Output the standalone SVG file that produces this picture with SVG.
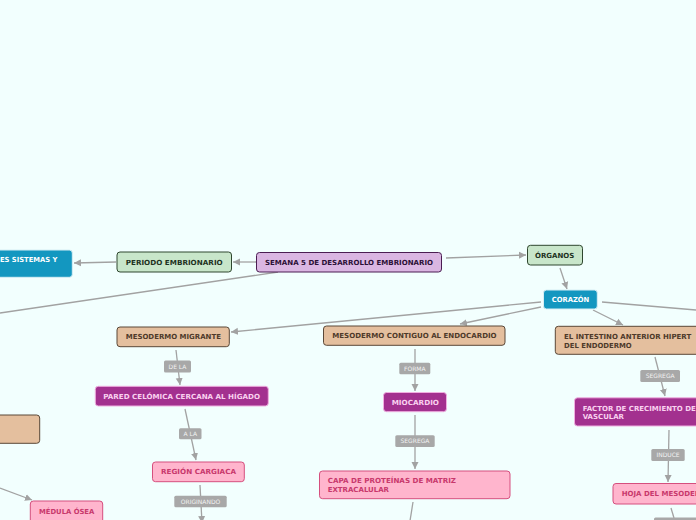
<svg xmlns="http://www.w3.org/2000/svg" width="696" height="520" viewBox="0 0 696 520">
<defs>
<marker id="ah" markerUnits="userSpaceOnUse" markerWidth="8" markerHeight="8" refX="7" refY="4" orient="auto">
<path d="M0,0.5 L7,4 L0,7.5 Z" fill="#a2a2a2"/>
</marker>
<style>
.t{font-family:"DejaVu Sans",Verdana,sans-serif;font-weight:bold;font-size:7px}
.lb rect{fill:#a8a8a8}
.lb text{font-family:"DejaVu Sans",Verdana,sans-serif;font-size:6px;fill:#f2f2f2;text-anchor:middle}
.c path{fill:none;stroke:#a2a2a2;stroke-width:1.3}
.green rect{fill:#c8e6ca;stroke:#2f472f;stroke-width:1}
.green text{fill:#1e321e}
.purple rect{fill:#dab6e2;stroke:#4a1d52;stroke-width:1}
.purple text{fill:#2b0f36}
.blue rect{fill:#1397c0;stroke:#d7eef4;stroke-width:1}
.blue text{fill:#ffffff}
.tan rect{fill:#e4bf9e;stroke:#5a4838;stroke-width:1}
.tan text{fill:#4e3a2a}
.mag rect{fill:#a3318f;stroke:#f0b0e0;stroke-width:1}
.mag text{fill:#fad2f0}
.pink rect{fill:#ffb5cd;stroke:#d54f7e;stroke-width:1}
.pink text{fill:#c8386c}
</style>
</defs>
<rect width="696" height="520" fill="#f2fffe"/>

<g id="connectors" class="c">
<path d="M256,262 L233,262" marker-end="url(#ah)"/>
<path d="M116,262 L74,263" marker-end="url(#ah)"/>
<path d="M446,258 L526,255" marker-end="url(#ah)"/>
<path d="M278,272 L0,313"/>
<path d="M560,268 L567,289" marker-end="url(#ah)"/>
<path d="M541,302 L231,332" marker-end="url(#ah)"/>
<path d="M541,307 L460,324" marker-end="url(#ah)"/>
<path d="M593,310 L623,325" marker-end="url(#ah)"/>
<path d="M602,302 L696,310"/>
<path d="M176,350 L180,385" marker-end="url(#ah)"/>
<path d="M185,409 L196,460" marker-end="url(#ah)"/>
<path d="M200,485 L202,523" marker-end="url(#ah)"/>
<path d="M0,488 L32,500" marker-end="url(#ah)"/>
<path d="M415,349 L415,391" marker-end="url(#ah)"/>
<path d="M415,415 L415,469" marker-end="url(#ah)"/>
<path d="M413,502 L410,521"/>
<path d="M655,357 L665,396" marker-end="url(#ah)"/>
<path d="M669,430 L668,482" marker-end="url(#ah)"/>
<path d="M671,508 L674,518"/>
<g class="lb">
<rect x="164" y="360.5" width="27" height="12" rx="1.5"/><text x="177.5" y="368.8">DE LA</text>
<rect x="179" y="428.3" width="22.5" height="11" rx="1.5"/><text x="190.2" y="436">A LA</text>
<rect x="174.3" y="495.7" width="52.4" height="11.6" rx="1.5"/><text x="200.5" y="503.6">ORIGINANDO</text>
<rect x="399.3" y="362.7" width="31" height="11.6" rx="1.5"/><text x="414.8" y="370.6">FORMA</text>
<rect x="395.3" y="435.3" width="39.4" height="11.7" rx="1.5"/><text x="415" y="443.2">SEGREGA</text>
<rect x="640.3" y="370" width="39.7" height="12" rx="1.5"/><text x="660.2" y="378.1">SEGREGA</text>
<rect x="651.3" y="449" width="33.4" height="12" rx="1.5"/><text x="668" y="457.1">INDUCE</text>
<rect x="654" y="517.5" width="50" height="12" rx="1.5"/>
</g>
</g>

<g id="n-semana" class="purple"><rect x="256.5" y="252.5" width="185" height="19.5" rx="3"/><text class="t" x="265" y="264.6" textLength="168" lengthAdjust="spacingAndGlyphs">SEMANA 5 DE DESARROLLO EMBRIONARIO</text></g>
<g id="n-periodo" class="green"><rect x="117" y="252" width="114.5" height="20" rx="3"/><text class="t" x="125.7" y="264.6" textLength="97" lengthAdjust="spacingAndGlyphs">PERIODO EMBRIONARIO</text></g>
<g id="n-sistemas" class="blue"><rect x="-20" y="250" width="92.3" height="27.3" rx="3"/><text class="t" x="0" y="261.8" textLength="57.3" lengthAdjust="spacingAndGlyphs">ES SISTEMAS Y</text></g>
<g id="n-organos" class="green"><rect x="527.5" y="245.3" width="55" height="19.7" rx="3"/><text class="t" x="535" y="257.7" textLength="39.3" lengthAdjust="spacingAndGlyphs">ÓRGANOS</text></g>
<g id="n-corazon" class="blue"><rect x="543.5" y="290" width="53.8" height="19" rx="3"/><text class="t" x="551.7" y="301.9" textLength="37.6" lengthAdjust="spacingAndGlyphs">CORAZÓN</text></g>
<g id="n-migrante" class="tan"><rect x="117" y="327" width="112.3" height="19.7" rx="3"/><text class="t" x="125.7" y="339.4" textLength="95.3" lengthAdjust="spacingAndGlyphs">MESODERMO MIGRANTE</text></g>
<g id="n-contiguo" class="tan"><rect x="323.5" y="326" width="181.5" height="19.3" rx="3"/><text class="t" x="332.3" y="338.2" textLength="164.3" lengthAdjust="spacingAndGlyphs">MESODERMO CONTIGUO AL ENDOCARDIO</text></g>
<g id="n-intestino" class="tan"><rect x="555.3" y="326.3" width="160" height="28" rx="3"/><text class="t" x="564" y="339.2">EL INTESTINO ANTERIOR HIPERT</text><text class="t" x="564" y="347.6" textLength="67.7" lengthAdjust="spacingAndGlyphs">DEL ENDODERMO</text></g>
<g id="n-tan-left" class="tan"><rect x="-20" y="415" width="59.7" height="28.3" rx="3"/></g>
<g id="n-pared" class="mag"><rect x="95.3" y="386.3" width="173" height="19.7" rx="3"/><text class="t" x="103.3" y="398.6" textLength="156.7" lengthAdjust="spacingAndGlyphs">PARED CELÓMICA CERCANA AL HÍGADO</text></g>
<g id="n-miocardio" class="mag"><rect x="383.5" y="392.5" width="63" height="19.2" rx="3"/><text class="t" x="391.7" y="404.6" textLength="47.3" lengthAdjust="spacingAndGlyphs">MIOCARDIO</text></g>
<g id="n-factor" class="mag"><rect x="574.5" y="397.8" width="140" height="28.2" rx="3"/><text class="t" x="582.7" y="410.6">FACTOR DE CRECIMIENTO DE</text><text class="t" x="582.7" y="419.4" textLength="41.3" lengthAdjust="spacingAndGlyphs">VASCULAR</text></g>
<g id="n-region" class="pink"><rect x="152.5" y="462" width="91.8" height="19.7" rx="3"/><text class="t" x="161" y="474.4" textLength="75" lengthAdjust="spacingAndGlyphs">REGIÓN CARGIACA</text></g>
<g id="n-capa" class="pink"><rect x="319.5" y="471" width="190.5" height="27.7" rx="3"/><text class="t" x="327.7" y="483.3" textLength="128.3" lengthAdjust="spacingAndGlyphs">CAPA DE PROTEÍNAS DE MATRIZ</text><text class="t" x="327.7" y="492.2" textLength="61.3" lengthAdjust="spacingAndGlyphs">EXTRACALULAR</text></g>
<g id="n-medula" class="pink"><rect x="30.3" y="501" width="72.4" height="24" rx="3"/><text class="t" x="39" y="513.7" textLength="55.3" lengthAdjust="spacingAndGlyphs">MÉDULA ÓSEA</text></g>
<g id="n-hoja" class="pink"><rect x="613" y="483.5" width="110" height="20.5" rx="3"/><text class="t" x="621.7" y="496.3">HOJA DEL MESODERMO</text></g>
</svg>
